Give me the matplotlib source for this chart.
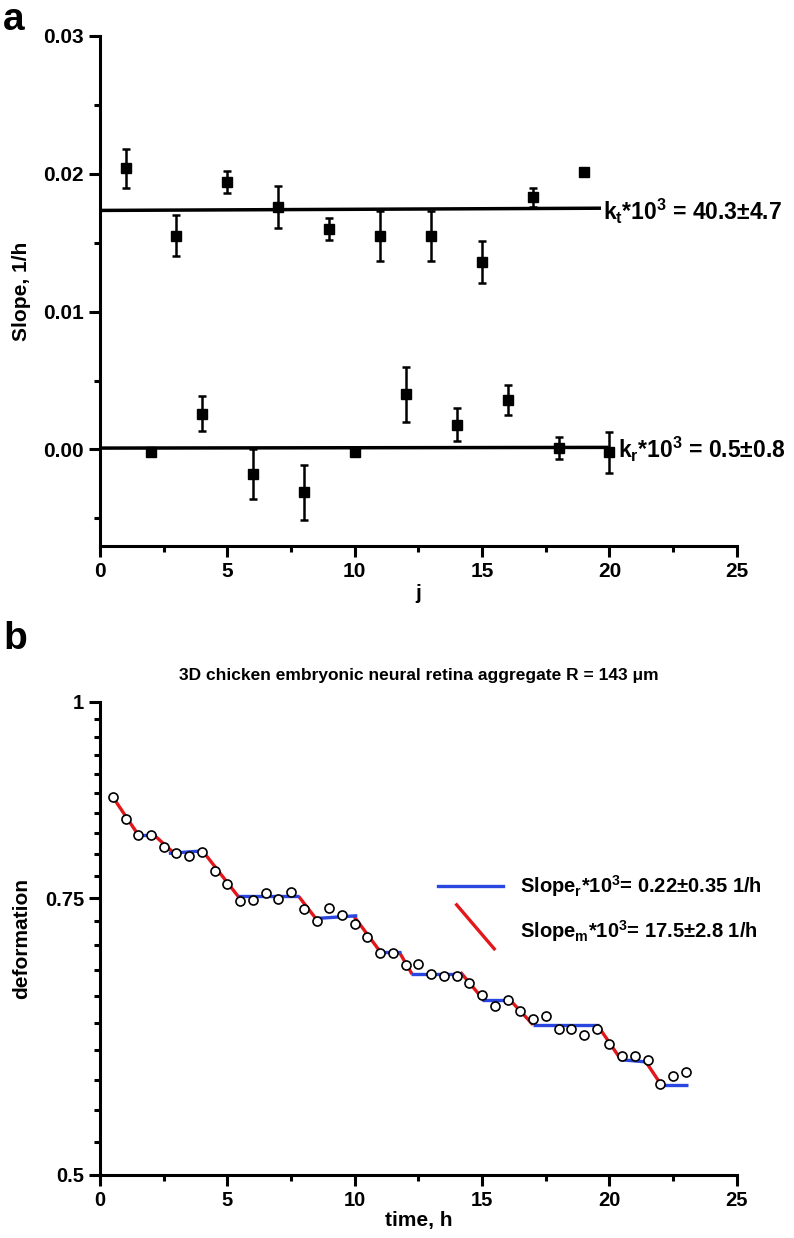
import matplotlib
matplotlib.use("Agg")
import matplotlib.pyplot as plt
from matplotlib.ticker import MultipleLocator, FixedLocator, NullFormatter

plt.rcParams['font.family'] = ['Liberation Sans', 'DejaVu Sans']
plt.rcParams['font.weight'] = 'bold'
plt.rcParams['mathtext.fontset'] = 'custom'
plt.rcParams['mathtext.rm'] = 'Liberation Sans:bold'
plt.rcParams['mathtext.bf'] = 'Liberation Sans:bold'
plt.rcParams['mathtext.default'] = 'regular'

# panel a: slopes of the single segments (odd j = moving, even j = resting)
j_odd = [1, 3, 5, 7, 9, 11, 13, 15, 17, 19]
slope_m = [0.0204, 0.0155, 0.0194, 0.0176, 0.0160, 0.0155, 0.0155, 0.0136, 0.0183, 0.0201]
slope_m_err = [0.0014, 0.0015, 0.0008, 0.0015, 0.0008, 0.0018, 0.0018, 0.0015, 0.0007, 0.0]
j_even = [2, 4, 6, 8, 10, 12, 14, 16, 18, 20]
slope_r = [-0.0002, 0.0026, -0.0018, -0.0031, -0.0002, 0.0040, 0.0018, 0.0036, 0.0001, -0.0002]
slope_r_err = [0.0, 0.00125, 0.0018, 0.0020, 0.0, 0.0020, 0.0012, 0.0011, 0.0008, 0.0015]
fit_m_x = [0, 19.6]
fit_m_y = [0.01734, 0.0175]
fit_r_x = [0, 19.9]
fit_r_y = [0.0001, 0.00015]

# panel b: deformation vs time
time_h = [0.5, 1.0, 1.5, 2.0, 2.5, 3.0, 3.5, 4.0, 4.5, 5.0, 5.5, 6.0, 6.5, 7.0, 7.5, 8.0,
          8.5, 9.0, 9.5, 10.0, 10.5, 11.0, 11.5, 12.0, 12.5, 13.0, 13.5, 14.0, 14.5, 15.0,
          15.5, 16.0, 16.5, 17.0, 17.5, 18.0, 18.5, 19.0, 19.5, 20.0, 20.5, 21.0, 21.5,
          22.0, 22.5, 23.0]
deform = [0.870, 0.842, 0.823, 0.823, 0.809, 0.801, 0.798, 0.802, 0.780, 0.766, 0.747, 0.748,
          0.756, 0.749, 0.757, 0.738, 0.725, 0.739, 0.732, 0.722, 0.709, 0.692, 0.692, 0.680,
          0.681, 0.671, 0.669, 0.669, 0.662, 0.651, 0.640, 0.646, 0.636, 0.628, 0.631, 0.619,
          0.619, 0.614, 0.619, 0.606, 0.595, 0.595, 0.592, 0.571, 0.578, 0.581]

rest_t0 = [1.45, 2.7, 5.4, 8.45, 10.95, 12.2, 15.0, 17.0, 20.4, 22.0]
rest_t1 = [2.2, 4.1, 7.8, 10.1, 11.8, 14.2, 16.1, 19.6, 21.45, 23.1]
rest_v0 = [0.823, 0.801, 0.752, 0.728, 0.693, 0.671, 0.646, 0.623, 0.592, 0.570]
rest_v1 = [0.823, 0.804, 0.752, 0.731, 0.693, 0.671, 0.646, 0.623, 0.590, 0.570]
move_t0 = [0.5, 2.15, 4.05, 7.8, 9.95, 11.75, 14.15, 16.1, 19.55, 21.4]
move_t1 = [1.5, 2.95, 5.45, 8.5, 11.1, 12.25, 15.1, 17.0, 20.45, 22.05]
move_v0 = [0.870, 0.822, 0.803, 0.752, 0.731, 0.693, 0.673, 0.646, 0.622, 0.591]
move_v1 = [0.823, 0.800, 0.751, 0.727, 0.690, 0.671, 0.645, 0.623, 0.592, 0.570]

blue = '#2a46e0'
red = '#e2161b'

fig = plt.figure(figsize=(7.94, 12.38), dpi=100)
ax_a = fig.add_axes([0.126, 0.559, 0.802, 0.412])
ax_b = fig.add_axes([0.126, 0.051, 0.802, 0.382])

# ---- panel a
ax_a.plot(fit_m_x, fit_m_y, color='black', lw=2.5)
ax_a.plot(fit_r_x, fit_r_y, color='black', lw=2.5)
ax_a.errorbar(j_odd, slope_m, yerr=slope_m_err, fmt='s', color='black', ms=7.5,
              elinewidth=1.8, capsize=3, capthick=1.8)
ax_a.errorbar(j_even, slope_r, yerr=slope_r_err, fmt='s', color='black', ms=7.5,
              elinewidth=1.8, capsize=3, capthick=1.8)
ax_a.text(19.75, 0.01665, r'k$_t$*10$^3$ = 40.3±4.7', fontsize=16.5, fontweight='bold',
          va='baseline', ha='left', clip_on=False)
ax_a.text(20.35, -0.0006, r'k$_r$*10$^3$ = 0.5±0.8', fontsize=16.5, fontweight='bold',
          va='baseline', ha='left', clip_on=False)

ax_a.set_xlim(0, 25)
ax_a.set_ylim(-0.007, 0.03)
ax_a.xaxis.set_major_locator(MultipleLocator(5))
ax_a.xaxis.set_minor_locator(MultipleLocator(2.5))
ax_a.yaxis.set_major_locator(FixedLocator([0.0, 0.01, 0.02, 0.03]))
ax_a.yaxis.set_minor_locator(FixedLocator([-0.005, 0.005, 0.015, 0.025]))
ax_a.set_yticklabels(['0.00', '0.01', '0.02', '0.03'])
ax_a.set_xlabel('j', fontsize=15, fontweight='bold', labelpad=2)
ax_a.set_ylabel('Slope, 1/h', fontsize=15, fontweight='bold')
ax_a.yaxis.set_label_coords(-0.108, 0.5)
ax_a.tick_params(labelsize=15)

# ---- panel b
ax_b.set_yscale('log')
for t0, t1, v0, v1 in zip(move_t0, move_t1, move_v0, move_v1):
    ax_b.plot([t0, t1], [v0, v1], color=red, lw=2.4, solid_capstyle='butt')
for t0, t1, v0, v1 in zip(rest_t0, rest_t1, rest_v0, rest_v1):
    ax_b.plot([t0, t1], [v0, v1], color=blue, lw=2.4, solid_capstyle='butt')
ax_b.plot(time_h, deform, 'o', mfc='white', mec='black', ms=6.5, mew=1.2, zorder=3)

# legend drawn by hand, as in the original
ax_b.plot([0.531, 0.633], [0.611, 0.611], color=blue, lw=2.4, transform=ax_b.transAxes)
ax_b.plot([0.560, 0.619], [0.571, 0.478], color=red, lw=2.4, transform=ax_b.transAxes)
ax_b.text(0.659, 0.611, r'Slope$_r$*10$^3$= 0.22±0.35 1/h', transform=ax_b.transAxes,
          fontsize=14.5, fontweight='bold', va='center', ha='left')
ax_b.text(0.659, 0.515, r'Slope$_m$*10$^3$= 17.5±2.8 1/h', transform=ax_b.transAxes,
          fontsize=14.5, fontweight='bold', va='center', ha='left')

ax_b.set_xlim(0, 25)
ax_b.set_ylim(0.5, 1.0)
ax_b.xaxis.set_major_locator(MultipleLocator(5))
ax_b.xaxis.set_minor_locator(MultipleLocator(2.5))
ax_b.yaxis.set_major_locator(FixedLocator([0.5, 0.75, 1.0]))
ax_b.yaxis.set_minor_locator(FixedLocator([0.5 + 0.025 * k for k in range(1, 20)]))
ax_b.yaxis.set_minor_formatter(NullFormatter())
ax_b.set_yticklabels(['0.5', '0.75', '1'])
ax_b.set_title('3D chicken embryonic neural retina aggregate R = 143 μm',
               fontsize=12.5, fontweight='bold', pad=16)
ax_b.set_xlabel('time, h', fontsize=15, fontweight='bold', labelpad=1)
ax_b.set_ylabel('deformation', fontsize=15, fontweight='bold')
ax_b.yaxis.set_label_coords(-0.108, 0.5)
ax_b.tick_params(labelsize=14.5)

for ax in (ax_a, ax_b):
    ax.spines['top'].set_visible(False)
    ax.spines['right'].set_visible(False)
    ax.spines['left'].set_linewidth(2.2)
    ax.spines['bottom'].set_linewidth(2.2)
    ax.tick_params(which='major', direction='out', length=8, width=2.2)
    ax.tick_params(which='minor', direction='out', length=4.5, width=2.2)
    for lab in ax.get_xticklabels() + ax.get_yticklabels():
        lab.set_fontweight('bold')

fig.text(0.004, 0.998, 'a', fontsize=28, fontweight='bold', va='top', ha='left')
fig.text(0.004, 0.498, 'b', fontsize=28, fontweight='bold', va='top', ha='left')

fig.savefig('out.png', dpi=100)
